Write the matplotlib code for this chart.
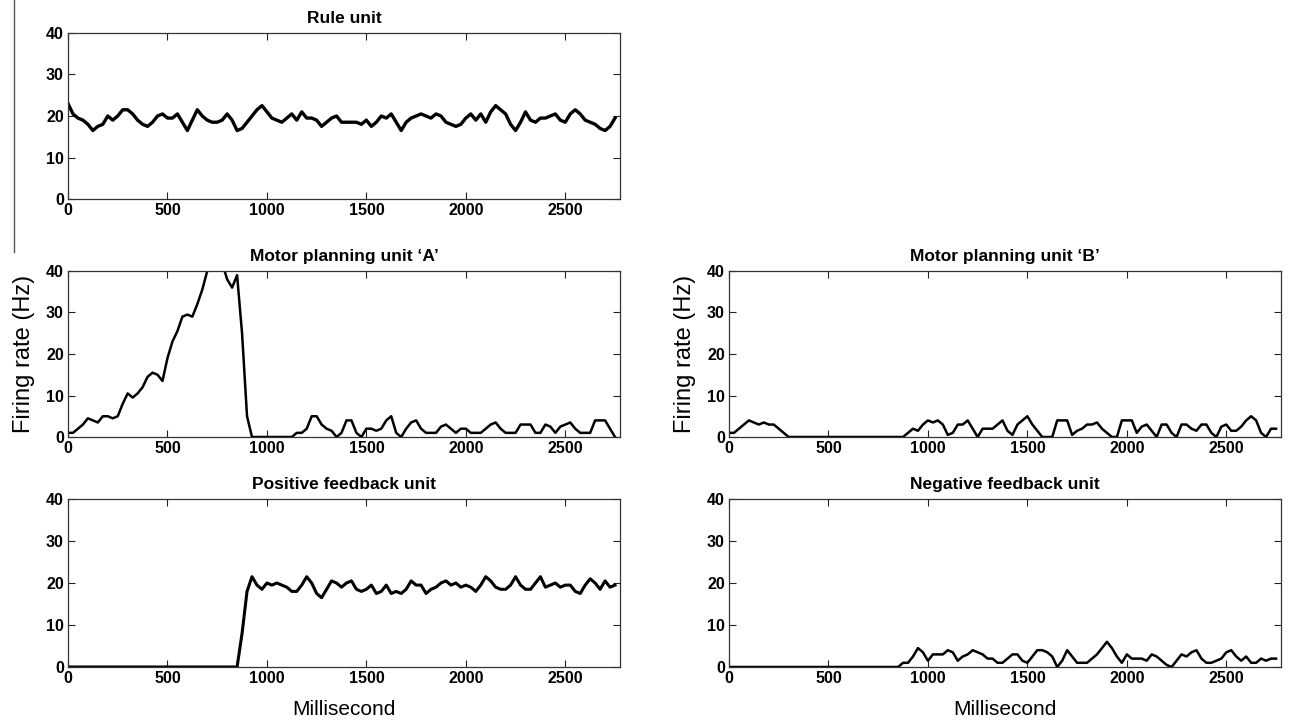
import numpy as np
import matplotlib
matplotlib.use("Agg")
from matplotlib import pyplot as plt
from matplotlib.lines import Line2D

plt.rcParams['font.family'] = ['Liberation Sans', 'DejaVu Sans']

# time axis (ms), one sample every 25 ms
time_ms = np.arange(0, 2751, 25)

# firing rates (Hz)
rule_unit = [
    23, 20.5, 19.5, 19, 18, 16.5, 17.5, 18, 20, 19,
    20, 21.5, 21.5, 20.5, 19, 18, 17.5, 18.5, 20, 20.5,
    19.5, 19.5, 20.5, 18.5, 16.5, 19, 21.5, 20, 19, 18.5,
    18.5, 19, 20.5, 19, 16.5, 17, 18.5, 20, 21.5, 22.5,
    21, 19.5, 19, 18.5, 19.5, 20.5, 19, 21, 19.5, 19.5,
    19, 17.5, 18.5, 19.5, 20, 18.5, 18.5, 18.5, 18.5, 18,
    19, 17.5, 18.5, 20, 19.5, 20.5, 18.5, 16.5, 18.5, 19.5,
    20, 20.5, 20, 19.5, 20.5, 20, 18.5, 18, 17.5, 18,
    19.5, 20.5, 19, 20.5, 18.5, 21, 22.5, 21.5, 20.5, 18,
    16.5, 18.5, 21, 19, 18.5, 19.5, 19.5, 20, 20.5, 19,
    18.5, 20.5, 21.5, 20.5, 19, 18.5, 18, 17, 16.5, 17.5,
    19.5,
]

motor_a = [
    1, 1, 2, 3, 4.5, 4, 3.5, 5, 5, 4.5,
    5, 8, 10.5, 9.5, 10.5, 12, 14.5, 15.5, 15, 13.5,
    19, 23, 25.5, 29, 29.5, 29, 32, 35.5, 40, 42,
    42, 42, 38, 36, 39, 25, 5, 0, 0, 0,
    0, 0, 0, 0, 0, 0, 1, 1, 2, 5,
    5, 3, 2, 1.5, 0, 1, 4, 4, 1, 0,
    2, 2, 1.5, 2, 4, 5, 1, 0, 2, 3.5,
    4, 2, 1, 1, 1, 2.5, 3, 2, 1, 2,
    2, 1, 1, 1, 2, 3, 3.5, 2, 1, 1,
    1, 3, 3, 3, 1, 1, 3, 2.5, 1, 2.5,
    3, 3.5, 2, 1, 1, 1, 4, 4, 4, 2,
    0,
]

motor_b = [
    1, 1, 2, 3, 4, 3.5, 3, 3.5, 3, 3,
    2, 1, 0, 0, 0, 0, 0, 0, 0, 0,
    0, 0, 0, 0, 0, 0, 0, 0, 0, 0,
    0, 0, 0, 0, 0, 0, 1, 2, 1.5, 3,
    4, 3.5, 4, 3, 0.5, 1, 3, 3, 4, 2,
    0, 2, 2, 2, 3, 4, 1.5, 0.5, 3, 4,
    5, 3, 1.5, 0, 0, 0, 4, 4, 4, 0.5,
    1.5, 2, 3, 3, 3.5, 2, 1, 0, 0, 4,
    4, 4, 1, 2.5, 3, 1.5, 0, 3, 3, 1,
    0, 3, 3, 2, 1.5, 3, 3, 1, 0, 2.5,
    3, 1.5, 1.5, 2.5, 4, 5, 4, 1, 0, 2,
    2,
]

positive_fb = [
    0, 0, 0, 0, 0, 0, 0, 0, 0, 0,
    0, 0, 0, 0, 0, 0, 0, 0, 0, 0,
    0, 0, 0, 0, 0, 0, 0, 0, 0, 0,
    0, 0, 0, 0, 0, 8, 18, 21.5, 19.5, 18.5,
    20, 19.5, 20, 19.5, 19, 18, 18, 19.5, 21.5, 20,
    17.5, 16.5, 18.5, 20.5, 20, 19, 20, 20.5, 18.5, 18,
    18.5, 19.5, 17.5, 18, 19.5, 17.5, 18, 17.5, 18.5, 20.5,
    19.5, 19.5, 17.5, 18.5, 19, 20, 20.5, 19.5, 20, 19,
    19.5, 19, 18, 19.5, 21.5, 20.5, 19, 18.5, 18.5, 19.5,
    21.5, 19.5, 18.5, 18.5, 20, 21.5, 19, 19.5, 20, 19,
    19.5, 19.5, 18, 17.5, 19.5, 21, 20, 18.5, 20.5, 19,
    19.5,
]

negative_fb = [
    0, 0, 0, 0, 0, 0, 0, 0, 0, 0,
    0, 0, 0, 0, 0, 0, 0, 0, 0, 0,
    0, 0, 0, 0, 0, 0, 0, 0, 0, 0,
    0, 0, 0, 0, 0, 1, 1, 2.5, 4.5, 3.5,
    1.5, 3, 3, 3, 4, 3.5, 1.5, 2.5, 3, 4,
    3.5, 3, 2, 2, 1, 1, 2, 3, 3, 1.5,
    1, 2.5, 4, 4, 3.5, 2.5, 0, 1.5, 4, 2.5,
    1, 1, 1, 2, 3, 4.5, 6, 4.5, 2.5, 1,
    3, 2, 2, 2, 1.5, 3, 2.5, 1.5, 0.5, 0,
    1.5, 3, 2.5, 3.5, 4, 2, 1, 1, 1.5, 2,
    3.5, 4, 2.5, 1.5, 2.5, 1, 1, 2, 1.5, 2,
    2,
]

W, H = 1297, 725
fig = plt.figure(figsize=(W / 100, H / 100), dpi=100)

def px_axes(left, top, right, bottom):
    return fig.add_axes([left / W, 1 - bottom / H, (right - left) / W, (bottom - top) / H])

panels = [
    ("Rule unit", rule_unit, (68, 33, 620, 199), False, False, 2.4),
    ("Motor planning unit \u2018A\u2019", motor_a, (68, 271, 620, 437), True, False, 1.8),
    ("Motor planning unit \u2018B\u2019", motor_b, (729, 271, 1281, 437), True, False, 1.8),
    ("Positive feedback unit", positive_fb, (68, 499, 620, 667), False, True, 2.2),
    ("Negative feedback unit", negative_fb, (729, 499, 1281, 667), False, True, 1.8),
]

for title, values, box, show_ylabel, show_xlabel, lw in panels:
    ax = px_axes(*box)
    ax.plot(time_ms, values, color='black', linewidth=lw)
    ax.set_xlim(0, 2775)
    ax.set_ylim(0, 40)
    ax.set_xticks([0, 500, 1000, 1500, 2000, 2500])
    ax.set_yticks([0, 10, 20, 30, 40])
    ax.tick_params(direction='in', length=5, width=0.8, top=True, right=True,
                   labelsize=11.5, pad=3, colors='#222222')
    for lab in ax.get_xticklabels() + ax.get_yticklabels():
        lab.set_fontweight('bold')
        lab.set_color('black')
    for s in ax.spines.values():
        s.set_linewidth(0.9)
        s.set_color('#333333')
    ax.set_title(title, fontsize=12.5, fontweight='bold', pad=7)
    if show_ylabel:
        ax.set_ylabel("Firing rate (Hz)", fontsize=17, labelpad=8)
    if show_xlabel:
        ax.set_xlabel("Millisecond", fontsize=15, labelpad=10)

# stray vertical rule at the far left of the original figure
fig.add_artist(Line2D([14 / W, 14 / W], [1, 1 - 252 / H], color='#555555', linewidth=1))

fig.savefig("out.png", dpi=100)
